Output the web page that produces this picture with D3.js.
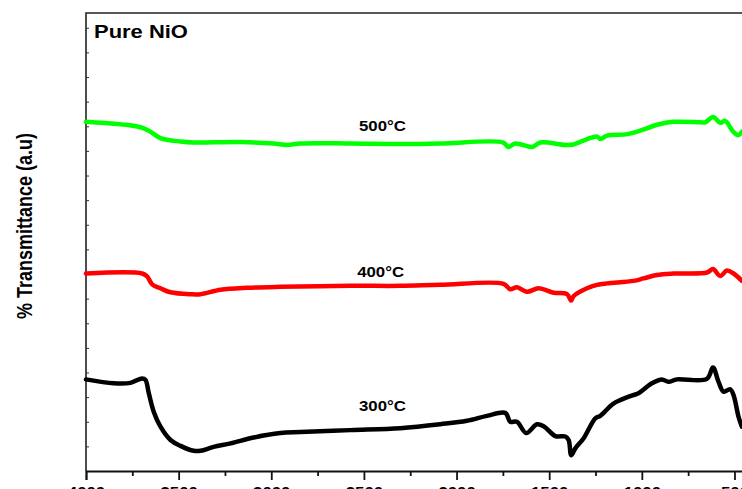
<!DOCTYPE html>
<html>
<head>
<meta charset="utf-8">
<script src="https://cdn.jsdelivr.net/npm/d3@7"></script>
<style>
  body { margin: 0; background: #fff; }
  text { font-family: Arial, "Liberation Sans", sans-serif; font-weight: bold; }
</style>
</head>
<body>
<div id="chart"></div>
<script>
// FTIR spectra, pure NiO calcined at three temperatures (a.u.)
const wn500 = [4000, 3706, 3652, 3598, 3490, 3420, 3167, 2989, 2913, 2843, 2573, 2303, 2087, 1748, 1721, 1683, 1591, 1548, 1413, 1370, 1295, 1241, 1224, 1187, 1079, 1009, 917, 831, 685, 658, 615, 577, 550, 507, 480, 459];
const t500 = [70.9, 69.8, 68.9, 67.6, 66.9, 66.7, 66.8, 66.5, 66.2, 66.5, 66.5, 66.4, 66.5, 66.7, 65.8, 66.5, 65.8, 66.7, 66.2, 66.3, 67.4, 67.9, 67.4, 68.1, 68.4, 69.1, 70.3, 70.9, 70.8, 70.8, 71.9, 70.7, 71.1, 68.9, 68.2, 68.9];

const wn400 = [4000, 3697, 3670, 3643, 3598, 3544, 3436, 3382, 3274, 3130, 2951, 2573, 2303, 2087, 1746, 1710, 1674, 1620, 1557, 1476, 1404, 1381, 1369, 1296, 1242, 1188, 1045, 991, 919, 829, 649, 616, 577, 541, 505, 460];
const t400 = [40.1, 40.1, 39.5, 37.9, 37.1, 36.3, 35.9, 35.9, 36.8, 37.2, 37.4, 37.6, 37.6, 37.8, 38.0, 36.9, 37.3, 36.4, 37.1, 36.2, 35.9, 34.6, 35.5, 37.1, 37.8, 38.1, 38.6, 39.1, 39.8, 40.1, 40.3, 41.0, 39.6, 40.7, 40.1, 38.6];

const wn300 = [4000, 3850, 3760, 3697, 3679, 3661, 3634, 3598, 3544, 3490, 3418, 3382, 3311, 3220, 3095, 2951, 2843, 2573, 2303, 2087, 1944, 1836, 1737, 1710, 1674, 1624, 1566, 1530, 1467, 1413, 1395, 1381, 1359, 1315, 1251, 1224, 1153, 1063, 1018, 946, 892, 856, 811, 649, 616, 586, 559, 523, 505, 478, 460];
const t300 = [18.6, 17.8, 17.9, 18.8, 18.5, 15.8, 12.0, 9.0, 6.3, 5.1, 4.1, 4.1, 4.9, 5.6, 6.8, 7.7, 7.9, 8.3, 8.7, 9.5, 10.2, 11.2, 11.8, 10.0, 10.0, 7.7, 9.5, 9.1, 7.1, 7.0, 6.3, 3.2, 4.6, 6.6, 10.7, 11.2, 13.7, 15.2, 15.8, 17.8, 18.6, 18.1, 18.6, 18.7, 21.0, 18.1, 16.1, 16.6, 15.4, 11.0, 9.0];

const seriesNames = ["500°C", "400°C", "300°C"];
const seriesColors = ["#00ff00", "#ff0000", "#000000"];
const labelWn = [2400, 2410, 2400];
const labelT = [69.0, 39.4, 12.2];

const majorTicks = [4000, 3500, 3000, 2500, 2000, 1500, 1000, 500];
const minorTicks = [3750, 3250, 2750, 2250, 1750, 1250, 750];

const width = 742, height = 489;
const margin = {top: 13, left: 86, bottom: 18};

const svg = d3.select("#chart").append("svg")
    .attr("width", width)
    .attr("height", height);

const xScale = d3.scaleLinear()
    .domain([4000, 400])
    .range([margin.left, 753]);

const yScale = d3.scaleLinear()
    .domain([0, 93])
    .range([height - margin.bottom, margin.top]);

const series = [
  {wn: wn500, t: t500},
  {wn: wn400, t: t400},
  {wn: wn300, t: t300}
];

// frame (right side falls outside the crop)
svg.append("path")
    .attr("d", `M${xScale(400)},${yScale(93)}H${xScale(4000)}V${yScale(0)}`)
    .attr("fill", "none")
    .attr("stroke", "#222")
    .attr("stroke-width", 1.6);

// x axis, major + minor ticks
const xAxis = d3.axisBottom(xScale)
    .tickValues(majorTicks)
    .tickSize(9)
    .tickPadding(7)
    .tickFormat(d3.format("d"));

const xAxisG = svg.append("g")
    .attr("transform", `translate(0,${yScale(0)})`)
    .call(xAxis);
xAxisG.select(".domain").attr("stroke-width", 1.8).attr("stroke", "#111");
xAxisG.selectAll(".tick line").attr("stroke-width", 1.8).attr("stroke", "#111");
xAxisG.selectAll(".tick text")
    .attr("font-size", 14)
    .attr("fill", "#000")
    .attr("transform", "scale(1.2,1)");

const xMinor = svg.append("g")
    .attr("transform", `translate(0,${yScale(0)})`)
    .call(d3.axisBottom(xScale).tickValues(minorTicks).tickSize(5).tickFormat(""));
xMinor.select(".domain").remove();
xMinor.selectAll(".tick line").attr("stroke-width", 1.8).attr("stroke", "#111");

// y axis: small inner ticks, no labels
const yAxisG = svg.append("g")
    .attr("transform", `translate(${margin.left},0)`)
    .call(d3.axisRight(yScale).tickValues(d3.range(5, 93, 5)).tickSize(3).tickFormat(""));
yAxisG.select(".domain").remove();
yAxisG.selectAll(".tick line").attr("stroke", "#333").attr("stroke-width", 1);

// spectra
const line = d3.line()
    .x(d => xScale(d[0]))
    .y(d => yScale(d[1]))
    .curve(d3.curveCatmullRom.alpha(0.5));

svg.append("g")
  .selectAll(".spectrum")
    .data(series)
  .join("path")
    .attr("class", "spectrum")
    .attr("d", s => line(s.wn.map((w, i) => [w, s.t[i]])))
    .attr("fill", "none")
    .attr("stroke", (s, i) => seriesColors[i])
    .attr("stroke-width", 4.5)
    .attr("stroke-linejoin", "round")
    .attr("stroke-linecap", "round");

// series labels
svg.selectAll(".series-label")
    .data(seriesNames)
  .join("text")
    .attr("class", "series-label")
    .attr("transform", (d, i) => `translate(${xScale(labelWn[i])},${yScale(labelT[i])}) scale(1.2,1)`)
    .attr("text-anchor", "middle")
    .attr("font-size", 14)
    .text(d => d);

svg.append("text")
    .attr("transform", `translate(94,38) scale(1.22,1)`)
    .attr("font-size", 18)
    .text("Pure NiO");

svg.append("text")
    .attr("transform", "translate(32,226) rotate(-90) scale(1,1.2)")
    .attr("text-anchor", "middle")
    .attr("font-size", 18)
    .text("% Transmittance (a.u)");
</script>
</body>
</html>
